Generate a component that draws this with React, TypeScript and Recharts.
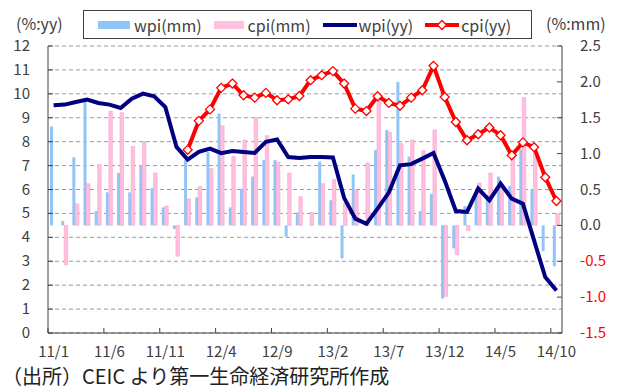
import React from 'react';
import { ComposedChart, Bar, Line, XAxis, YAxis, CartesianGrid } from 'recharts';

const months = [
  '11/1', '11/2', '11/3', '11/4', '11/5', '11/6', '11/7', '11/8', '11/9', '11/10', '11/11', '11/12',
  '12/1', '12/2', '12/3', '12/4', '12/5', '12/6', '12/7', '12/8', '12/9', '12/10', '12/11', '12/12',
  '13/1', '13/2', '13/3', '13/4', '13/5', '13/6', '13/7', '13/8', '13/9', '13/10', '13/11', '13/12',
  '14/1', '14/2', '14/3', '14/4', '14/5', '14/6', '14/7', '14/8', '14/9', '14/10',
];

// 前月比 (right axis)
const wpiMm = [
  1.38, 0.06, 0.95, 1.72, 0.2, 0.46, 0.73, 0.46, 0.84, 0.52, 0.25, -0.05,
  0.91, 0.39, 1.02, 1.56, 0.25, 0.51, 0.68, 0.91, 0.91, -0.16, 0.18, 0.0,
  0.89, 0.35, -0.46, 0.71, 0.05, 1.05, 1.33, 2.0, 0.96, 0.2, 0.44, -1.02,
  -0.32, 0.27, 0.47, 0.42, 0.68, 0.55, 1.06, 0.5, -0.36, -0.57,
];
const cpiMm = [
  0, -0.55, 0.3, 0.58, 0.85, 1.59, 1.57, 1.1, 1.17, 0.73, 0.27, -0.43,
  0.37, 0.54, 0.79, 1.39, 0.96, 1.19, 1.5, 1.25, 0.88, 0.73, 0.4, 0.18,
  0.58, 0.64, 0.31, 0.49, 0.87, 1.73, 1.3, 1.14, 1.19, 1.04, 1.33, -0.99,
  -0.41, -0.07, 0.59, 0.73, 0.54, 1.0, 1.78, 1.03, 0, 0.16,
];

// 前年比 (left axis)
const wpiYy = [
  9.52, 9.55, 9.66, 9.76, 9.62, 9.55, 9.41, 9.8, 10.01, 9.9, 9.45, 7.78,
  7.25, 7.57, 7.71, 7.52, 7.61, 7.57, 7.53, 7.99, 8.09, 7.36, 7.32, 7.36,
  7.36, 7.34, 5.65, 4.78, 4.57, 5.2, 5.87, 7.01, 7.06, 7.29, 7.53, 6.38,
  5.1, 5.06, 6.04, 5.55, 6.25, 5.62, 5.41, 3.87, 2.34, 1.78,
];
const cpiYy = [
  null, null, null, null, null, null, null, null, null, null, null, null,
  7.66, 8.87, 9.35, 10.25, 10.43, 9.94, 9.84, 10.04, 9.73, 9.77, 9.91, 10.57,
  10.78, 10.95, 10.43, 9.38, 9.28, 9.9, 9.62, 9.5, 9.84, 10.15, 11.17, 9.87,
  8.82, 8.06, 8.31, 8.59, 8.27, 7.43, 7.97, 7.77, 6.51, 5.52,
];

const leftTicks = [0, 1, 2, 3, 4, 5, 6, 7, 8, 9, 10, 11, 12];
const rightTicks = [-1.5, -1.0, -0.5, 0, 0.5, 1.0, 1.5, 2.0, 2.5];

const data = months.map((m, i) => ({
  m,
  wpiMm: wpiMm[i],
  cpiMm: cpiMm[i],
  wpiYy: wpiYy[i],
  cpiYy: cpiYy[i],
}));

const W = 619;
const H = 389;
const LEFT_W = 48;
const RIGHT_W = 57;
const TOP = 46;
const X_H = 56;
const PLOT_W = W - LEFT_W - RIGHT_W;
const BAND = PLOT_W / months.length;

const FONT = '"Noto Sans CJK JP", "Noto Sans", sans-serif';
const TXT = '#404040';

const XTick = (props: any) => {
  const { x, y, payload } = props;
  const bx = x - BAND / 2;
  return (
    <g>
      <line x1={bx} x2={bx} y1={y} y2={y - 5} stroke={TXT} />
      <text x={x} y={y + 24} textAnchor="middle" fontSize={15} fill={TXT} fontFamily={FONT}>
        {payload.value}
      </text>
    </g>
  );
};

const LeftTick = (props: any) => {
  const { x, y, payload } = props;
  return (
    <g>
      <line x1={x} x2={x + 5} y1={y} y2={y} stroke={TXT} />
      <text x={x - 18} y={y + 5} textAnchor="end" fontSize={15} fill={TXT} fontFamily={FONT}>
        {payload.value}
      </text>
    </g>
  );
};

const RightTick = (props: any) => {
  const { x, y, payload } = props;
  const v = Number(payload.value);
  return (
    <g>
      <line x1={x - 5} x2={x} y1={y} y2={y} stroke={TXT} />
      <text x={x + 18} y={y + 5} textAnchor="start" fontSize={15} fill={v < 0 ? '#ff0000' : TXT} fontFamily={FONT}>
        {v.toFixed(1)}
      </text>
    </g>
  );
};

const Diamond = (props: any) => {
  const { cx, cy, index } = props;
  if (cy == null || cx == null) return <g key={index} />;
  const r = 4.5;
  return (
    <path
      key={index}
      d={`M${cx},${cy - r} L${cx + r},${cy} L${cx},${cy + r} L${cx - r},${cy} Z`}
      fill="#ffffff"
      stroke="#ff0000"
      strokeWidth={1.3}
    />
  );
};

function LegendBox() {
  const item = { display: 'flex', alignItems: 'center', marginRight: 12 } as React.CSSProperties;
  return (
    <div
      style={{
        position: 'absolute',
        left: 83,
        top: 10,
        width: 449,
        height: 29,
        boxSizing: 'border-box',
        border: '1px solid #404040',
        background: '#fff',
        display: 'flex',
        alignItems: 'center',
        paddingLeft: 14,
        fontFamily: FONT,
        fontSize: 16,
        color: TXT,
      }}
    >
      <div style={item}>
        <div style={{ width: 32, height: 8, background: '#92c5f7', marginRight: 4 }} />
        wpi(mm)
      </div>
      <div style={item}>
        <div style={{ width: 30, height: 8, background: '#ffc0df', marginRight: 4 }} />
        cpi(mm)
      </div>
      <div style={item}>
        <svg width={34} height={10} style={{ marginRight: 2 }}>
          <line x1={0} x2={34} y1={5} y2={5} stroke="#000080" strokeWidth={4} />
        </svg>
        wpi(yy)
      </div>
      <div style={item}>
        <svg width={34} height={12} style={{ marginRight: 2 }}>
          <line x1={0} x2={34} y1={6} y2={6} stroke="#ff0000" strokeWidth={4} />
          <path d="M17,1.5 L21.5,6 L17,10.5 L12.5,6 Z" fill="#fff" stroke="#ff0000" strokeWidth={1.3} />
        </svg>
        cpi(yy)
      </div>
    </div>
  );
}

const unitStyle = { position: 'absolute', top: 15, fontFamily: FONT, fontSize: 16, lineHeight: 1, color: TXT } as React.CSSProperties;

export default function App() {
  return (
    <div style={{ position: 'absolute', left: 0, top: 0, width: W, height: H, background: '#fff', overflow: 'hidden' }}>
      <ComposedChart
        width={W}
        height={H}
        data={data}
        margin={{ top: TOP, right: 0, bottom: 0, left: 0 }}
        barGap={0}
        barCategoryGap={0}
      >
        <CartesianGrid vertical={false} yAxisId="left" stroke="#9a9a9a" strokeDasharray="4 3" />
        <XAxis
          dataKey="m"
          interval={4}
          height={X_H}
          tickLine={false}
          tickSize={0}
          tickMargin={0}
          axisLine={{ stroke: TXT }}
          tick={<XTick />}
        />
        <YAxis
          yAxisId="left"
          orientation="left"
          width={LEFT_W}
          domain={[0, 12]}
          ticks={leftTicks}
          interval={0}
          tickLine={false}
          tickSize={0}
          tickMargin={0}
          axisLine={{ stroke: TXT }}
          tick={<LeftTick />}
        />
        <YAxis
          yAxisId="right"
          orientation="right"
          width={RIGHT_W}
          domain={[-1.5, 2.5]}
          ticks={rightTicks}
          interval={0}
          tickLine={false}
          tickSize={0}
          tickMargin={0}
          axisLine={{ stroke: TXT }}
          tick={<RightTick />}
        />
        <Bar yAxisId="right" dataKey="wpiMm" fill="#92c5f7" barSize={3} isAnimationActive={false} />
        <Bar yAxisId="right" dataKey="cpiMm" fill="#ffc0df" stroke="#f7a3cc" strokeWidth={0.6} barSize={3.5} isAnimationActive={false} />
        <Line yAxisId="left" type="linear" dataKey="wpiYy" stroke="#000080" strokeWidth={4} dot={false} isAnimationActive={false} />
        <Line yAxisId="left" type="linear" dataKey="cpiYy" stroke="#ff0000" strokeWidth={4} dot={<Diamond />} activeDot={false} isAnimationActive={false} />
      </ComposedChart>
      <LegendBox />
      <div style={{ ...unitStyle, left: 16 }}>(%:yy)</div>
      <div style={{ ...unitStyle, left: 546 }}>(%:mm)</div>
      <div style={{ position: 'absolute', left: 2, top: 366, fontFamily: FONT, fontSize: 20, lineHeight: 1, color: '#222', whiteSpace: 'nowrap' }}>
        （出所）CEIC より第一生命経済研究所作成
      </div>
    </div>
  );
}
